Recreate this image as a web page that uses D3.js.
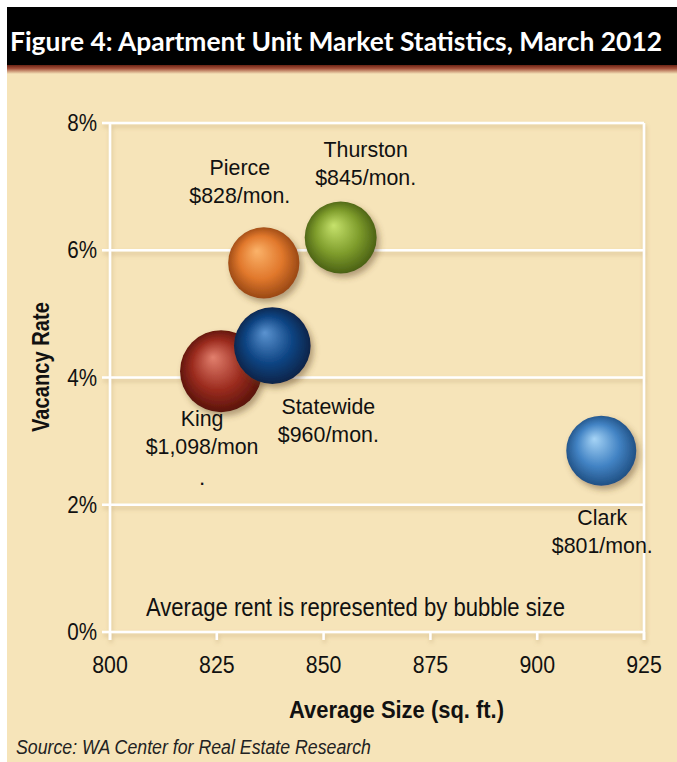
<!DOCTYPE html>
<html><head><meta charset="utf-8">
<script src="https://cdn.jsdelivr.net/npm/d3@7"></script>
<style>body{margin:0;background:#fff}svg{display:block}</style>
</head><body><svg id="c" width="677" height="762"></svg>
<script>
const names = ["King","Statewide","Pierce","Thurston","Clark"];
const avgSize = [826, 838, 836, 854, 915];
const vacancy = [4.1, 4.5, 5.8, 6.2, 2.85];
const rent = [1098, 960, 828, 845, 801];
const rentLabels = ["$1,098/mon","$960/mon.","$828/mon.","$845/mon.","$801/mon."];
const xTicks = [800, 825, 850, 875, 900, 925];
const yTicks = [0, 2, 4, 6, 8];
const colors = [
  {hi:"#e2806e", base:"#9c2c1f", dark:"#4e0f07"},
  {hi:"#5b93d0", base:"#0f4584", dark:"#061d3d"},
  {hi:"#fbb36a", base:"#e1782c", dark:"#8c3f10"},
  {hi:"#c6e26c", base:"#7f9d2c", dark:"#415610"},
  {hi:"#a6d4f6", base:"#4283c4", dark:"#1a4778"}
];
const labelPos = [
  {dx:-19, dy:55},
  {dx:56, dy:68},
  {dx:-24, dy:-88},
  {dx:25, dy:-81},
  {dx:1, dy:74}
];

const svg = d3.select("#c");
const defs = svg.append("defs");

svg.append("rect").attr("x",7).attr("y",7).attr("width",670).attr("height",755).attr("fill","#f6e4b9");
const hg = defs.append("linearGradient").attr("id","hdrShade").attr("x1",0).attr("x2",0).attr("y1",0).attr("y2",1);
hg.append("stop").attr("offset","0%").attr("stop-color","#5a1508");
hg.append("stop").attr("offset","45%").attr("stop-color","#a4503a");
hg.append("stop").attr("offset","100%").attr("stop-color","#f6e4b9");
svg.append("rect").attr("x",7).attr("y",64).attr("width",670).attr("height",10).attr("fill","url(#hdrShade)");
svg.append("rect").attr("x",7).attr("y",7).attr("width",670).attr("height",58).attr("fill","#000");
svg.append("text").attr("x",10).attr("y",51)
  .attr("textLength",652).attr("lengthAdjust","spacingAndGlyphs")
  .attr("font-family","Lato").attr("font-weight","bold").attr("font-size",26)
  .attr("fill","#fff").text("Figure 4: Apartment Unit Market Statistics, March 2012");

const x = d3.scaleLinear().domain([800,925]).range([110,644]);
const y = d3.scaleLinear().domain([0,8]).range([632,123]);
const r = d3.scaleSqrt().domain([0,1098]).range([0,41]);

const gf = defs.append("filter").attr("id","gshadow").attr("x","-5%").attr("y","-50%").attr("width","110%").attr("height","300%");
gf.append("feDropShadow").attr("dx",1).attr("dy",3).attr("stdDeviation",2).attr("flood-color","#a08050").attr("flood-opacity",0.35);

const grid = svg.append("g").attr("filter","url(#gshadow)");
yTicks.forEach(t=>{
  grid.append("line").attr("x1",x(800)-8).attr("x2",x(925)).attr("y1",y(t)).attr("y2",y(t))
    .attr("stroke","#fff").attr("stroke-width",2.5);
});
grid.append("line").attr("x1",x(800)).attr("x2",x(800)).attr("y1",y(8)).attr("y2",y(0)+8).attr("stroke","#fff").attr("stroke-width",2.5);
grid.append("line").attr("x1",x(925)).attr("x2",x(925)).attr("y1",y(8)).attr("y2",y(0)+8).attr("stroke","#fff").attr("stroke-width",2.5);
xTicks.forEach(t=>{
  grid.append("line").attr("x1",x(t)).attr("x2",x(t)).attr("y1",y(0)).attr("y2",y(0)+8).attr("stroke","#fff").attr("stroke-width",2.5);
});

const font = "Liberation Sans, Arial, sans-serif";
yTicks.forEach(t=>{
  svg.append("text").attr("transform",`translate(97,${y(t)+8}) scale(0.86,1)`).attr("text-anchor","end")
    .attr("font-family",font).attr("font-size",24).attr("fill","#111").text(t+"%");
});
xTicks.forEach(t=>{
  svg.append("text").attr("transform",`translate(${x(t)},673) scale(0.87,1)`).attr("text-anchor","middle")
    .attr("font-family",font).attr("font-size",24.5).attr("fill","#111").text(t);
});
svg.append("text").attr("x",289).attr("y",718).attr("textLength",215).attr("lengthAdjust","spacingAndGlyphs")
  .attr("font-family",font).attr("font-weight","bold").attr("font-size",24).attr("fill","#111")
  .text("Average Size (sq. ft.)");
svg.append("text").attr("transform","translate(49,432) rotate(-90)")
  .attr("textLength",130).attr("lengthAdjust","spacingAndGlyphs")
  .attr("font-family",font).attr("font-weight","bold").attr("font-size",23).attr("fill","#111")
  .text("Vacancy Rate");
svg.append("text").attr("x",16).attr("y",754).attr("textLength",355).attr("lengthAdjust","spacingAndGlyphs")
  .attr("font-family",font).attr("font-style","italic").attr("font-size",20).attr("fill","#222")
  .text("Source: WA Center for Real Estate Research");
svg.append("text").attr("x",146).attr("y",616).attr("textLength",419).attr("lengthAdjust","spacingAndGlyphs")
  .attr("font-family",font).attr("font-size",25).attr("fill","#111")
  .text("Average rent is represented by bubble size");

const bf = defs.append("filter").attr("id","bshadow").attr("x","-30%").attr("y","-30%").attr("width","170%").attr("height","170%");
bf.append("feDropShadow").attr("dx",3).attr("dy",4).attr("stdDeviation",3).attr("flood-color","#5a4020").attr("flood-opacity",0.45);
colors.forEach((c,i)=>{
  const g = defs.append("radialGradient").attr("id","bg"+i).attr("cx","50%").attr("cy","50%").attr("r","55%")
    .attr("fx","40%").attr("fy","33%");
  g.append("stop").attr("offset","0%").attr("stop-color",c.hi);
  g.append("stop").attr("offset","55%").attr("stop-color",c.base);
  g.append("stop").attr("offset","100%").attr("stop-color",c.dark);
});
const idx = d3.range(names.length);
svg.append("g").selectAll("circle").data(idx).join("circle")
  .attr("cx",i=>x(avgSize[i])).attr("cy",i=>y(vacancy[i])).attr("r",i=>r(rent[i]))
  .attr("fill",i=>"url(#bg"+i+")").attr("filter","url(#bshadow)");

const lg = svg.append("g").attr("font-family",font).attr("font-size",22.5).attr("fill","#111").attr("text-anchor","middle");
idx.forEach(i=>{
  const cx = x(avgSize[i]) + labelPos[i].dx, cy = y(vacancy[i]) + labelPos[i].dy;
  lg.append("text").attr("transform",`translate(${cx},${cy}) scale(0.95,1)`).text(names[i]);
  lg.append("text").attr("transform",`translate(${cx},${cy+28}) scale(0.95,1)`).text(rentLabels[i]);
  if (names[i]==="King") lg.append("text").attr("x",cx).attr("y",cy+59).text(".");
});
</script></body></html>
